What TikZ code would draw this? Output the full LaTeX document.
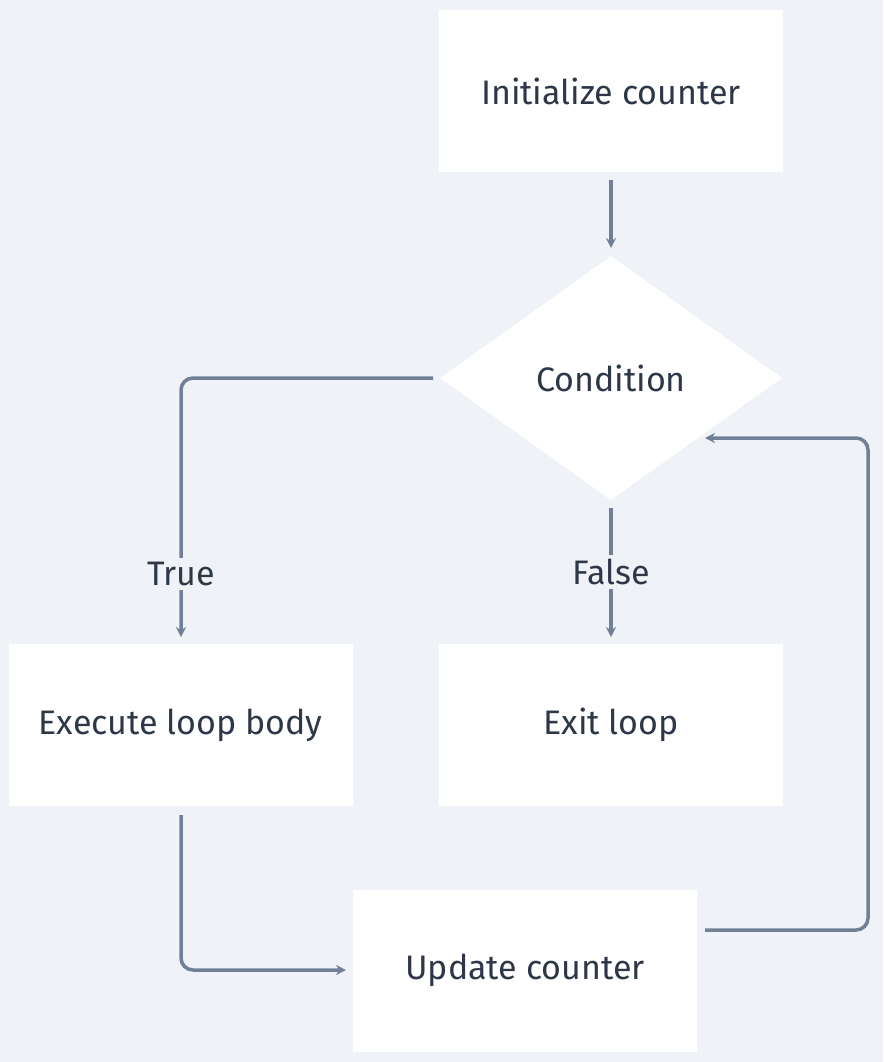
\documentclass[tikz,border=0pt]{standalone}
\usepackage{fontspec}
\setmainfont{Fira Sans}
\usetikzlibrary{shapes.geometric,arrows.meta}
\definecolor{bg}{HTML}{EFF3F7}
\definecolor{ln}{HTML}{718096}
\definecolor{tx}{HTML}{2D3748}
\begin{document}
\begin{tikzpicture}[x=1pt,y=-1pt,
  box/.style={fill=white,draw=none,minimum width=344pt,minimum height=162pt,font=\fontsize{34}{40}\selectfont,text=tx},
  lab/.style={fill=bg,font=\fontsize{34}{40}\selectfont,text=tx,inner sep=4pt},
  con/.style={draw=ln,line width=3.5pt,rounded corners=12pt,-{Stealth[length=10pt,width=10pt]}}]
\fill[bg] (0,0) rectangle (883,1062);
\useasboundingbox (0,0) rectangle (883,1062);
\node[box] (init) at (611,91) {Initialize counter};
\node[diamond,fill=white,minimum width=342pt,minimum height=244pt,inner sep=0pt,aspect=1.4] (cond) at (611,378) {};
\node[font=\fontsize{34}{40}\selectfont,text=tx] (condt) at (611,378) {Condition};
\node[box] (exec) at (180.5,725) {Execute loop body};
\node[box] (exit) at (611,725) {Exit loop};
\node[box] (upd) at (525,970.5) {Update counter};
\coordinate (a1) at (611,180); \coordinate (a2) at (611,248);
\draw[con] (a1) -- (a2);
\coordinate (t0) at (433,378); \coordinate (t1) at (181,637);
\draw[con] (t0) -- (181,378) -- (t1);
\node[lab] (tl) at (181,574) {True};
\coordinate (f0) at (611,508); \coordinate (f1) at (611,637);
\draw[con] (f0) -- (f1);
\node[lab] (fl) at (611,572) {False};
\coordinate (e0) at (181,815); \coordinate (e1) at (346,970);
\draw[con] (e0) -- (181,970) -- (e1);
\coordinate (u0) at (705,930); \coordinate (u1) at (705,438);
\draw[con] (u0) -- (868,930) -- (868,438) -- (u1);
\end{tikzpicture}
\end{document}
